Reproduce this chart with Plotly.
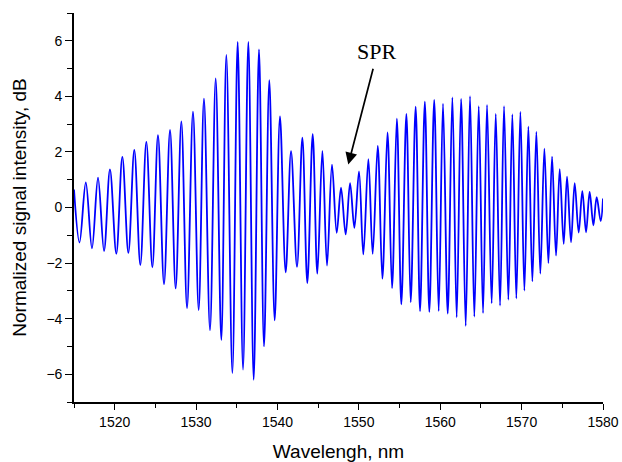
import numpy as np
import plotly.graph_objects as go

# Local maxima of the signal (wavelength nm, intensity dB)
peak_x = [1516.45, 1517.95, 1519.42, 1520.94, 1522.41, 1523.89, 1525.32, 1526.80, 1528.19, 1529.62,
          1530.97, 1532.41, 1533.72, 1535.11, 1536.42, 1537.73, 1539.00, 1540.31, 1541.67, 1543.06,
          1544.33, 1545.52, 1546.70, 1547.81, 1548.92, 1550.02, 1551.17, 1552.32, 1553.52, 1554.67,
          1555.84, 1556.98, 1558.11, 1559.26, 1560.34, 1561.49, 1562.56, 1563.66, 1564.73, 1565.75,
          1566.82, 1567.84, 1568.86, 1569.85, 1570.83, 1571.81, 1572.80, 1573.74, 1574.68, 1575.58,
          1576.52, 1577.46, 1578.36, 1579.22]
peak_y = [0.90, 1.07, 1.37, 1.82, 2.07, 2.36, 2.60, 2.79, 3.10, 3.45,
          3.92, 4.65, 5.49, 5.96, 5.96, 5.69, 4.58, 3.28, 2.03, 2.51,
          2.64, 2.04, 1.54, 0.71, 0.88, 1.30, 1.74, 2.22, 2.70, 3.20,
          3.37, 3.63, 3.81, 3.87, 3.74, 3.96, 3.91, 4.01, 3.65, 3.69,
          3.37, 3.65, 3.35, 3.44, 2.91, 2.72, 2.12, 1.83, 1.38, 1.11,
          0.88, 0.59, 0.56, 0.37]

# Local minima
trough_x = [1515.68, 1517.21, 1518.69, 1520.20, 1521.68, 1523.15, 1524.63, 1526.06, 1527.49, 1528.89,
            1530.32, 1531.71, 1533.10, 1534.46, 1535.77, 1537.08, 1538.35, 1539.66, 1541.01, 1542.40,
            1543.67, 1544.90, 1546.09, 1547.28, 1548.38, 1549.45, 1550.55, 1551.70, 1552.89, 1554.08,
            1555.22, 1556.37, 1557.52, 1558.66, 1559.81, 1560.92, 1562.02, 1563.13, 1564.19, 1565.26,
            1566.32, 1567.35, 1568.37, 1569.35, 1570.34, 1571.32, 1572.30, 1573.29, 1574.23, 1575.17,
            1576.07, 1577.01, 1577.92, 1578.82, 1579.72]
trough_y = [-1.26, -1.47, -1.57, -1.66, -1.63, -2.07, -2.15, -2.76, -2.91, -3.62,
            -3.69, -4.42, -4.77, -5.96, -5.83, -6.20, -5.00, -4.06, -2.33, -2.14,
            -2.72, -2.38, -2.09, -0.91, -0.97, -0.73, -1.69, -1.67, -2.56, -2.90,
            -3.49, -3.41, -3.73, -3.76, -3.73, -3.82, -3.95, -4.26, -3.93, -3.80,
            -3.45, -3.53, -3.32, -3.27, -2.99, -2.66, -2.38, -2.00, -1.73, -1.31,
            -1.25, -0.90, -0.89, -0.64, -0.49]

# Signal values at the two ends of the scan
end_x = [1515.0, 1580.0]
end_y = [0.65, 0.32]

x_title = "Wavelengh, nm"
y_title = "Normalized signal intensity, dB"
annot_text = "SPR"

xs = np.array(peak_x + trough_x + end_x)
ys = np.array(peak_y + trough_y + end_y)
order = np.argsort(xs)
xs, ys = xs[order], ys[order]

fig = go.Figure()
fig.add_trace(go.Scatter(
    x=xs, y=ys, mode="lines",
    line=dict(color="#0000FF", width=1.8, shape="spline", smoothing=1.0),
    showlegend=False, hoverinfo="skip",
))

fig.add_annotation(
    x=1548.7, y=1.55, ax=1551.8, ay=5.05,
    xref="x", yref="y", axref="x", ayref="y",
    text="", showarrow=True, arrowhead=2, arrowsize=1.4, arrowwidth=1.7,
    arrowcolor="black",
)
fig.add_annotation(
    x=1552.2, y=5.62, xref="x", yref="y", text=annot_text, showarrow=False,
    font=dict(family="Liberation Serif, Times New Roman, serif", size=22, color="black"),
)

axis_font = dict(family="Liberation Sans, Arial, sans-serif", size=14, color="black")
fig.update_xaxes(
    range=[1515, 1580], dtick=10, tick0=1520,
    ticks="outside", ticklen=6, tickwidth=1.3, tickcolor="black",
    minor=dict(dtick=5, tick0=1515, ticks="outside", ticklen=4, tickwidth=1.3, tickcolor="black"),
    showline=True, linecolor="black", linewidth=1.6,
    showgrid=False, zeroline=False, tickfont=axis_font,
    title=dict(text=x_title, font=dict(family="Liberation Sans, Arial, sans-serif", size=19, color="black"),
               standoff=20),
)
fig.update_yaxes(
    range=[-7, 7], dtick=2, tick0=0,
    ticks="outside", ticklen=7, tickwidth=1.3, tickcolor="black",
    minor=dict(dtick=1, tick0=1, ticks="outside", ticklen=5, tickwidth=1.3, tickcolor="black"),
    showline=True, linecolor="black", linewidth=1.6,
    showgrid=False, zeroline=False, tickfont=axis_font,
    title=dict(text=y_title, font=dict(family="Liberation Sans, Arial, sans-serif", size=19, color="black"),
               standoff=15),
)
fig.update_layout(
    width=622, height=462,
    margin=dict(l=74, r=19, t=13, b=60, autoexpand=False),
    plot_bgcolor="white", paper_bgcolor="white",
)
fig.write_html("out.html")
